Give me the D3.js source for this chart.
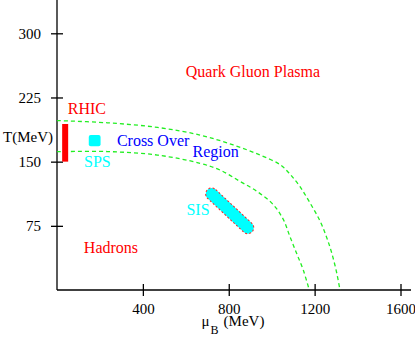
<!DOCTYPE html>
<html>
<head>
<meta charset="utf-8">
<script src="https://cdn.jsdelivr.net/npm/d3@7"></script>
<style>
  body { margin: 0; background: #fff; }
  svg text { font-family: "Times New Roman", Times, "Liberation Serif", "DejaVu Serif", serif; }
</style>
</head>
<body>
<div id="chart"></div>
<script>

// axis ticks
let xTicks = [400, 800, 1200, 1600];
let yTicks = [75, 150, 225, 300];

// dashed cross over boundaries [muB, T]
let upperMu = [0, 235, 468, 666, 821, 945, 1039, 1085, 1132, 1178, 1225, 1257, 1281, 1304, 1318];
let upperT = [198, 195.4, 190, 181.1, 169.5, 157.8, 146.5, 135.5, 120.7, 102, 80.6, 60.8, 42.1, 18.7, 0];
let lowerMu = [0, 235, 468, 666, 759, 852, 930, 1007, 1054, 1085, 1116, 1147, 1175];
let lowerT = [161.6, 161.8, 157.7, 148.1, 140.2, 127, 115.5, 99.8, 82.5, 62.5, 42.9, 23.4, 0];

// experiments: [muMin, muMax, tMin, tMax]
let rhic = [24, 52, 150, 194];
let sps = [148, 203, 168, 181];
// SIS capsule outer ends [mu, T]
let sisEnds = [[700, 117], [909, 68]];

// labels: text, mu, T, colour
let labels = [
  ["Quark Gluon Plasma", 600, 249, "#ff0000"],
  ["RHIC", 50, 206, "#ff0000"],
  ["SPS", 126, 144, "#00ffff"],
  ["Cross Over", 279, 168, "#0000ff"],
  ["Region", 631, 155, "#0000ff"],
  ["SIS", 603, 88, "#00ffff"],
  ["Hadrons", 125, 43, "#ff0000"]
];

var width = 415, height = 337;
var serif = "'Times New Roman', Times, 'Liberation Serif', 'DejaVu Serif', serif";

var svg = d3.select("#chart").append("svg")
  .attr("width", width)
  .attr("height", height)
  .attr("font-family", serif);

var x = d3.scaleLinear().domain([0, 1600]).range([57, 400.5]);
var y = d3.scaleLinear().domain([0, 300]).range([290, 33.3]);

// axes lines
svg.append("line")
  .attr("x1", x(0)).attr("x2", 411)
  .attr("y1", y(0)).attr("y2", y(0))
  .attr("stroke", "#000").attr("stroke-width", 1.3);
svg.append("line")
  .attr("x1", x(0)).attr("x2", x(0))
  .attr("y1", 0).attr("y2", y(0))
  .attr("stroke", "#000").attr("stroke-width", 1.3);

// x ticks
var xg = svg.append("g").attr("transform", "translate(0," + y(0) + ")")
  .call(d3.axisBottom(x).tickValues(xTicks).tickFormat(d3.format("d"))
    .tickSizeInner(6).tickSizeOuter(0).tickPadding(7));
xg.attr("font-family", serif).attr("font-size", 15);
xg.select(".domain").remove();
xg.selectAll(".tick line").attr("y1", -6).attr("y2", 6).attr("stroke-width", 1.3);
xg.selectAll(".tick text").attr("dy", "0.71em").attr("fill", "#000");

// y ticks
var yg = svg.append("g").attr("transform", "translate(" + x(0) + ",0)")
  .call(d3.axisLeft(y).tickValues(yTicks).tickFormat(d3.format("d"))
    .tickSizeInner(6).tickSizeOuter(0).tickPadding(10));
yg.attr("font-family", serif).attr("font-size", 15);
yg.select(".domain").remove();
yg.selectAll(".tick line").attr("x1", -6).attr("x2", 6).attr("stroke-width", 1.3);
yg.selectAll(".tick text").attr("dy", "0.33em").attr("fill", "#000");

// axis titles
svg.append("text").attr("x", 3).attr("y", 141.7)
  .attr("font-size", 15).text("T(MeV)");
var xt = svg.append("text").attr("x", 201.5).attr("y", 326).attr("font-size", 15);
xt.append("tspan").text("μ");
xt.append("tspan").attr("dy", 8).attr("dx", 1).attr("font-size", 12).text("B");
xt.append("tspan").attr("dy", -8).attr("dx", 5).text("(MeV)");

// dashed boundaries
var line = d3.line()
  .x(function (d) { return x(d[0]); })
  .y(function (d) { return y(d[1]); })
  .curve(d3.curveCatmullRom.alpha(0.5));

[[upperMu, upperT], [lowerMu, lowerT]].forEach(function (c) {
  svg.append("path")
    .datum(d3.zip(c[0], c[1]))
    .attr("d", line)
    .attr("fill", "none")
    .attr("stroke", "#22ee22")
    .attr("stroke-width", 1.3)
    .attr("stroke-dasharray", "4,3");
});

// RHIC
svg.append("rect")
  .attr("x", x(rhic[0])).attr("width", x(rhic[1]) - x(rhic[0]))
  .attr("y", y(rhic[3])).attr("height", y(rhic[2]) - y(rhic[3]))
  .attr("fill", "#ff0000");

// SPS
svg.append("rect")
  .attr("x", x(sps[0])).attr("width", x(sps[1]) - x(sps[0]))
  .attr("y", y(sps[3])).attr("height", y(sps[2]) - y(sps[3]))
  .attr("rx", 2)
  .attr("fill", "#00ffff");

// SIS capsule
var p1 = [x(sisEnds[0][0]), y(sisEnds[0][1])];
var p2 = [x(sisEnds[1][0]), y(sisEnds[1][1])];
var len = Math.hypot(p2[0] - p1[0], p2[1] - p1[1]);
var ang = Math.atan2(p2[1] - p1[1], p2[0] - p1[0]) * 180 / Math.PI;
var cx = (p1[0] + p2[0]) / 2, cy = (p1[1] + p2[1]) / 2;
svg.append("rect")
  .attr("x", -len / 2).attr("y", -6)
  .attr("width", len).attr("height", 12)
  .attr("rx", 6)
  .attr("transform", "translate(" + cx + "," + cy + ") rotate(" + ang + ")")
  .attr("fill", "#00ffff")
  .attr("stroke", "#ff2222")
  .attr("stroke-width", 1)
  .attr("stroke-dasharray", "2,2");

// labels
svg.selectAll(".lbl")
  .data(labels)
  .enter().append("text")
  .attr("class", "lbl")
  .attr("x", function (d) { return x(d[1]); })
  .attr("y", function (d) { return y(d[2]); })
  .attr("fill", function (d) { return d[3]; })
  .attr("font-size", 16)
  .text(function (d) { return d[0]; });

</script>
</body>
</html>
